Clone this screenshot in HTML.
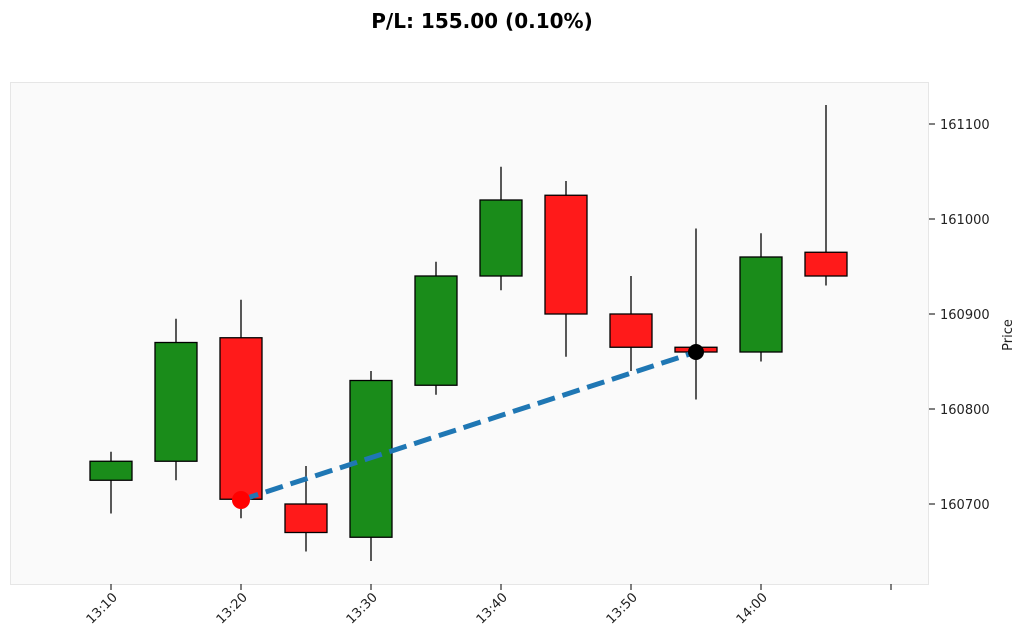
<!DOCTYPE html>
<html><head><meta charset="utf-8"><style>body{margin:0;background:#fff}svg{display:block;font-family:"DejaVu Sans","Liberation Sans",sans-serif}</style></head>
<body>
<svg width="1024" height="644" viewBox="0 0 1024 644" xmlns="http://www.w3.org/2000/svg">
<text x="482" y="28" text-anchor="middle" font-size="20" font-weight="bold" fill="#000">P/L: 155.00 (0.10%)</text>
<rect x="10.5" y="82.5" width="918" height="502" fill="#fafafa" stroke="#e6e6e6"/>
<g stroke="#000" stroke-width="1.3">
<line x1="111" y1="451.75" x2="111" y2="513.5"/><rect x="90" y="461.25" width="42" height="19" fill="#1a8c1a"/>
<line x1="176" y1="318.75" x2="176" y2="480.25"/><rect x="155" y="342.5" width="42" height="118.75" fill="#1a8c1a"/>
<line x1="241" y1="299.75" x2="241" y2="518.25"/><rect x="220" y="337.75" width="42" height="161.5" fill="#ff1a1a"/>
<line x1="306" y1="466" x2="306" y2="551.5"/><rect x="285" y="504" width="42" height="28.5" fill="#ff1a1a"/>
<line x1="371" y1="371" x2="371" y2="561"/><rect x="350" y="380.5" width="42" height="156.75" fill="#1a8c1a"/>
<line x1="436" y1="261.75" x2="436" y2="394.75"/><rect x="415" y="276" width="42" height="109.25" fill="#1a8c1a"/>
<line x1="501" y1="166.75" x2="501" y2="290.25"/><rect x="480" y="200" width="42" height="76" fill="#1a8c1a"/>
<line x1="566" y1="181" x2="566" y2="356.75"/><rect x="545" y="195.25" width="42" height="118.75" fill="#ff1a1a"/>
<line x1="631" y1="276" x2="631" y2="371"/><rect x="610" y="314" width="42" height="33.25" fill="#ff1a1a"/>
<line x1="696" y1="228.5" x2="696" y2="399.5"/><rect x="675" y="347.25" width="42" height="4.75" fill="#ff1a1a"/>
<line x1="761" y1="233.25" x2="761" y2="361.5"/><rect x="740" y="257" width="42" height="95" fill="#1a8c1a"/>
<line x1="826" y1="105" x2="826" y2="285.5"/><rect x="805" y="252.25" width="42" height="23.75" fill="#ff1a1a"/>
</g>
<line x1="241" y1="500" x2="696" y2="352" stroke="#1f77b4" stroke-width="5" stroke-dasharray="18,8"/>
<circle cx="241" cy="500" r="9" fill="#ff0000"/>
<circle cx="696" cy="352" r="8" fill="#000"/>
<g stroke="#000" stroke-width="1">
<line x1="929" y1="124" x2="935" y2="124"/><line x1="929" y1="219" x2="935" y2="219"/><line x1="929" y1="314" x2="935" y2="314"/><line x1="929" y1="409" x2="935" y2="409"/><line x1="929" y1="504" x2="935" y2="504"/>
<line x1="111" y1="584" x2="111" y2="590"/><line x1="241" y1="584" x2="241" y2="590"/><line x1="371" y1="584" x2="371" y2="590"/><line x1="501" y1="584" x2="501" y2="590"/><line x1="631" y1="584" x2="631" y2="590"/><line x1="761" y1="584" x2="761" y2="590"/><line x1="891" y1="584" x2="891" y2="590"/>
</g>
<g font-size="13" fill="#222">
<text x="940" y="129">161100</text><text x="940" y="224">161000</text><text x="940" y="319">160900</text><text x="940" y="414">160800</text><text x="940" y="509">160700</text>
</g>
<text transform="translate(1012,335) rotate(-90)" text-anchor="middle" font-size="13" fill="#222">Price</text>
<g font-size="13" fill="#222" text-anchor="end">
<text transform="translate(118,598) rotate(-45)">13:10</text>
<text transform="translate(248,598) rotate(-45)">13:20</text>
<text transform="translate(378,598) rotate(-45)">13:30</text>
<text transform="translate(508,598) rotate(-45)">13:40</text>
<text transform="translate(638,598) rotate(-45)">13:50</text>
<text transform="translate(768,598) rotate(-45)">14:00</text>
</g>
</svg>
</body></html>
